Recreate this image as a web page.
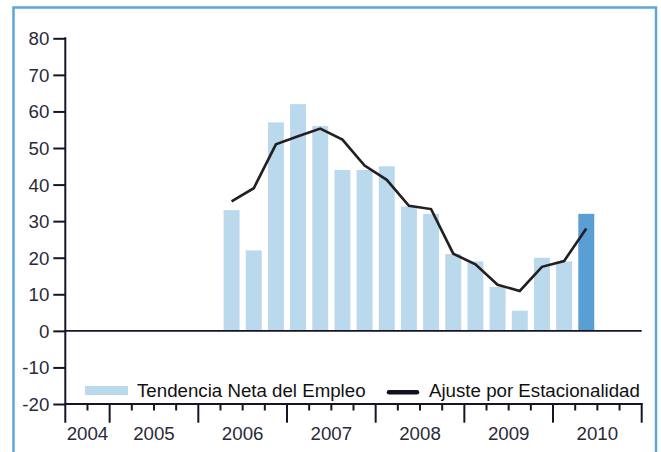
<!DOCTYPE html>
<html>
<head>
<meta charset="utf-8">
<script src="https://cdn.jsdelivr.net/npm/d3@7"></script>
<style>
  html, body { margin: 0; padding: 0; background: #fff; }
  svg { display: block; font-family: 'Liberation Sans', Arial, sans-serif; }
</style>
</head>
<body>
<div class="viz"></div>
<script>
// quarters on the horizontal axis, from the second half of 2004 to the end of 2010
const quarters = [
  '2004-3', '2004-4',
  '2005-1', '2005-2', '2005-3', '2005-4',
  '2006-1', '2006-2', '2006-3', '2006-4',
  '2007-1', '2007-2', '2007-3', '2007-4',
  '2008-1', '2008-2', '2008-3', '2008-4',
  '2009-1', '2009-2', '2009-3', '2009-4',
  '2010-1', '2010-2', '2010-3', '2010-4',
];
const years = ['2004', '2005', '2006', '2007', '2008', '2009', '2010'];

// quarters with an observation
const dataQuarters = [
  '2006-2', '2006-3', '2006-4',
  '2007-1', '2007-2', '2007-3', '2007-4',
  '2008-1', '2008-2', '2008-3', '2008-4',
  '2009-1', '2009-2', '2009-3', '2009-4',
  '2010-1', '2010-2',
];
// bars: net employment trend
const tendencia = [33, 22, 57, 62, 56, 44, 44, 45, 34, 32, 21, 19, 12, 5.5, 20, 19, 32];
// line: seasonally adjusted
const ajuste = [35.4, 39, 51, 53.2, 55.3, 52.3, 45.2, 41.3, 34.2, 33.3, 21.1, 18.2, 12.6, 10.9, 17.5, 19.1, 28];
const yTicks = [-20, -10, 0, 10, 20, 30, 40, 50, 60, 70, 80];

const legendLabels = ['Tendencia Neta del Empleo', 'Ajuste por Estacionalidad'];

const width = 661;
const height = 452;
const plot = { left: 65.3, right: 641.7, top: 38.3, bottom: 404 };
const fontSize = 18.7;

const colorBar = '#bad9ed';
const colorBarLast = '#5a9fd3';
const colorAxis = '#15152a';
const colorText = '#2a2a38';

const svg = d3
  .select('.viz')
  .append('svg')
  .attr('width', width)
  .attr('height', height);

// blue frame, open at the bottom edge of the picture
svg
  .append('rect')
  .attr('x', 13.5)
  .attr('y', 7.5)
  .attr('width', 642.5)
  .attr('height', 470)
  .attr('fill', 'none')
  .attr('stroke', '#5ea7dc')
  .attr('stroke-width', 2.5);

const xScale = d3
  .scaleBand()
  .domain(quarters)
  .range([plot.left, plot.right])
  .paddingInner(0.28)
  .paddingOuter(0.14);

// position of the quarter boundaries
const xIndex = d3
  .scaleLinear()
  .domain([0, quarters.length])
  .range([plot.left, plot.right]);

const yScale = d3
  .scaleLinear()
  .domain([-20, 80])
  .range([plot.bottom, plot.top]);

// bars
svg
  .append('g')
  .selectAll('rect')
  .data(tendencia)
  .enter()
  .append('rect')
  .attr('x', (d, i) => xScale(dataQuarters[i]))
  .attr('y', d => yScale(d))
  .attr('width', xScale.bandwidth())
  .attr('height', d => yScale(0) - yScale(d))
  .attr('fill', (d, i) => (i === tendencia.length - 1 ? colorBarLast : colorBar));

// zero line
svg
  .append('line')
  .attr('x1', plot.left)
  .attr('x2', plot.right)
  .attr('y1', yScale(0))
  .attr('y2', yScale(0))
  .attr('stroke', colorAxis)
  .attr('stroke-width', 1.6);

// seasonally adjusted line
const line = d3
  .line()
  .x((d, i) => xScale(dataQuarters[i]) + xScale.bandwidth() / 2)
  .y(d => yScale(d));

svg
  .append('path')
  .attr('d', line(ajuste))
  .attr('fill', 'none')
  .attr('stroke', '#231f20')
  .attr('stroke-width', 2.6)
  .attr('stroke-linejoin', 'miter');

// y axis, plain hyphen for the negative labels
const yAxis = d3
  .axisLeft(yScale)
  .tickValues(yTicks)
  .tickFormat(d => String(d))
  .tickSize(12)
  .tickPadding(4);

const groupY = svg
  .append('g')
  .attr('transform', `translate(${plot.left} 0)`)
  .call(yAxis);

groupY.select('.domain').remove();
groupY
  .selectAll('line')
  .attr('stroke', colorAxis)
  .attr('stroke-width', 2);
groupY
  .selectAll('text')
  .attr('fill', colorText)
  .attr('font-size', fontSize)
  .attr('dy', '0.35em');

svg
  .append('line')
  .attr('x1', plot.left)
  .attr('x2', plot.left)
  .attr('y1', plot.top - 1)
  .attr('y2', 422.7)
  .attr('stroke', colorAxis)
  .attr('stroke-width', 2);

// x axis with year and quarter ticks
svg
  .append('line')
  .attr('x1', plot.left)
  .attr('x2', plot.right + 1)
  .attr('y1', plot.bottom)
  .attr('y2', plot.bottom)
  .attr('stroke', colorAxis)
  .attr('stroke-width', 2);

const boundaries = d3.range(1, quarters.length + 1);
svg
  .append('g')
  .selectAll('line')
  .data(boundaries)
  .enter()
  .append('line')
  .attr('x1', d => xIndex(d))
  .attr('x2', d => xIndex(d))
  .attr('y1', plot.bottom)
  .attr('y2', d => (d === quarters.length || quarters[d].endsWith('-1') ? 422.7 : 410.5))
  .attr('stroke', colorAxis)
  .attr('stroke-width', 2);

// year labels, centered on the quarters of each year
svg
  .append('g')
  .selectAll('text')
  .data(years)
  .enter()
  .append('text')
  .attr('x', (year) => {
    const inYear = quarters.filter(q => q.startsWith(year));
    const first = quarters.indexOf(inYear[0]);
    return (xIndex(first) + xIndex(first + inYear.length)) / 2;
  })
  .attr('y', 440)
  .attr('text-anchor', 'middle')
  .attr('font-size', fontSize)
  .attr('fill', colorText)
  .text(d => d);

// legend
const legend = svg.append('g');
legend
  .append('rect')
  .attr('x', 85)
  .attr('y', 386)
  .attr('width', 43)
  .attr('height', 9)
  .attr('fill', colorBar);
legend
  .append('text')
  .attr('x', 137)
  .attr('y', 397)
  .attr('font-size', fontSize)
  .attr('fill', '#111')
  .text(legendLabels[0]);
legend
  .append('line')
  .attr('x1', 389)
  .attr('x2', 417)
  .attr('y1', 392.3)
  .attr('y2', 392.3)
  .attr('stroke', '#111122')
  .attr('stroke-width', 4.5)
  .attr('stroke-linecap', 'round');
legend
  .append('text')
  .attr('x', 429)
  .attr('y', 397)
  .attr('font-size', fontSize)
  .attr('fill', '#111')
  .text(legendLabels[1]);
</script>
</body>
</html>
